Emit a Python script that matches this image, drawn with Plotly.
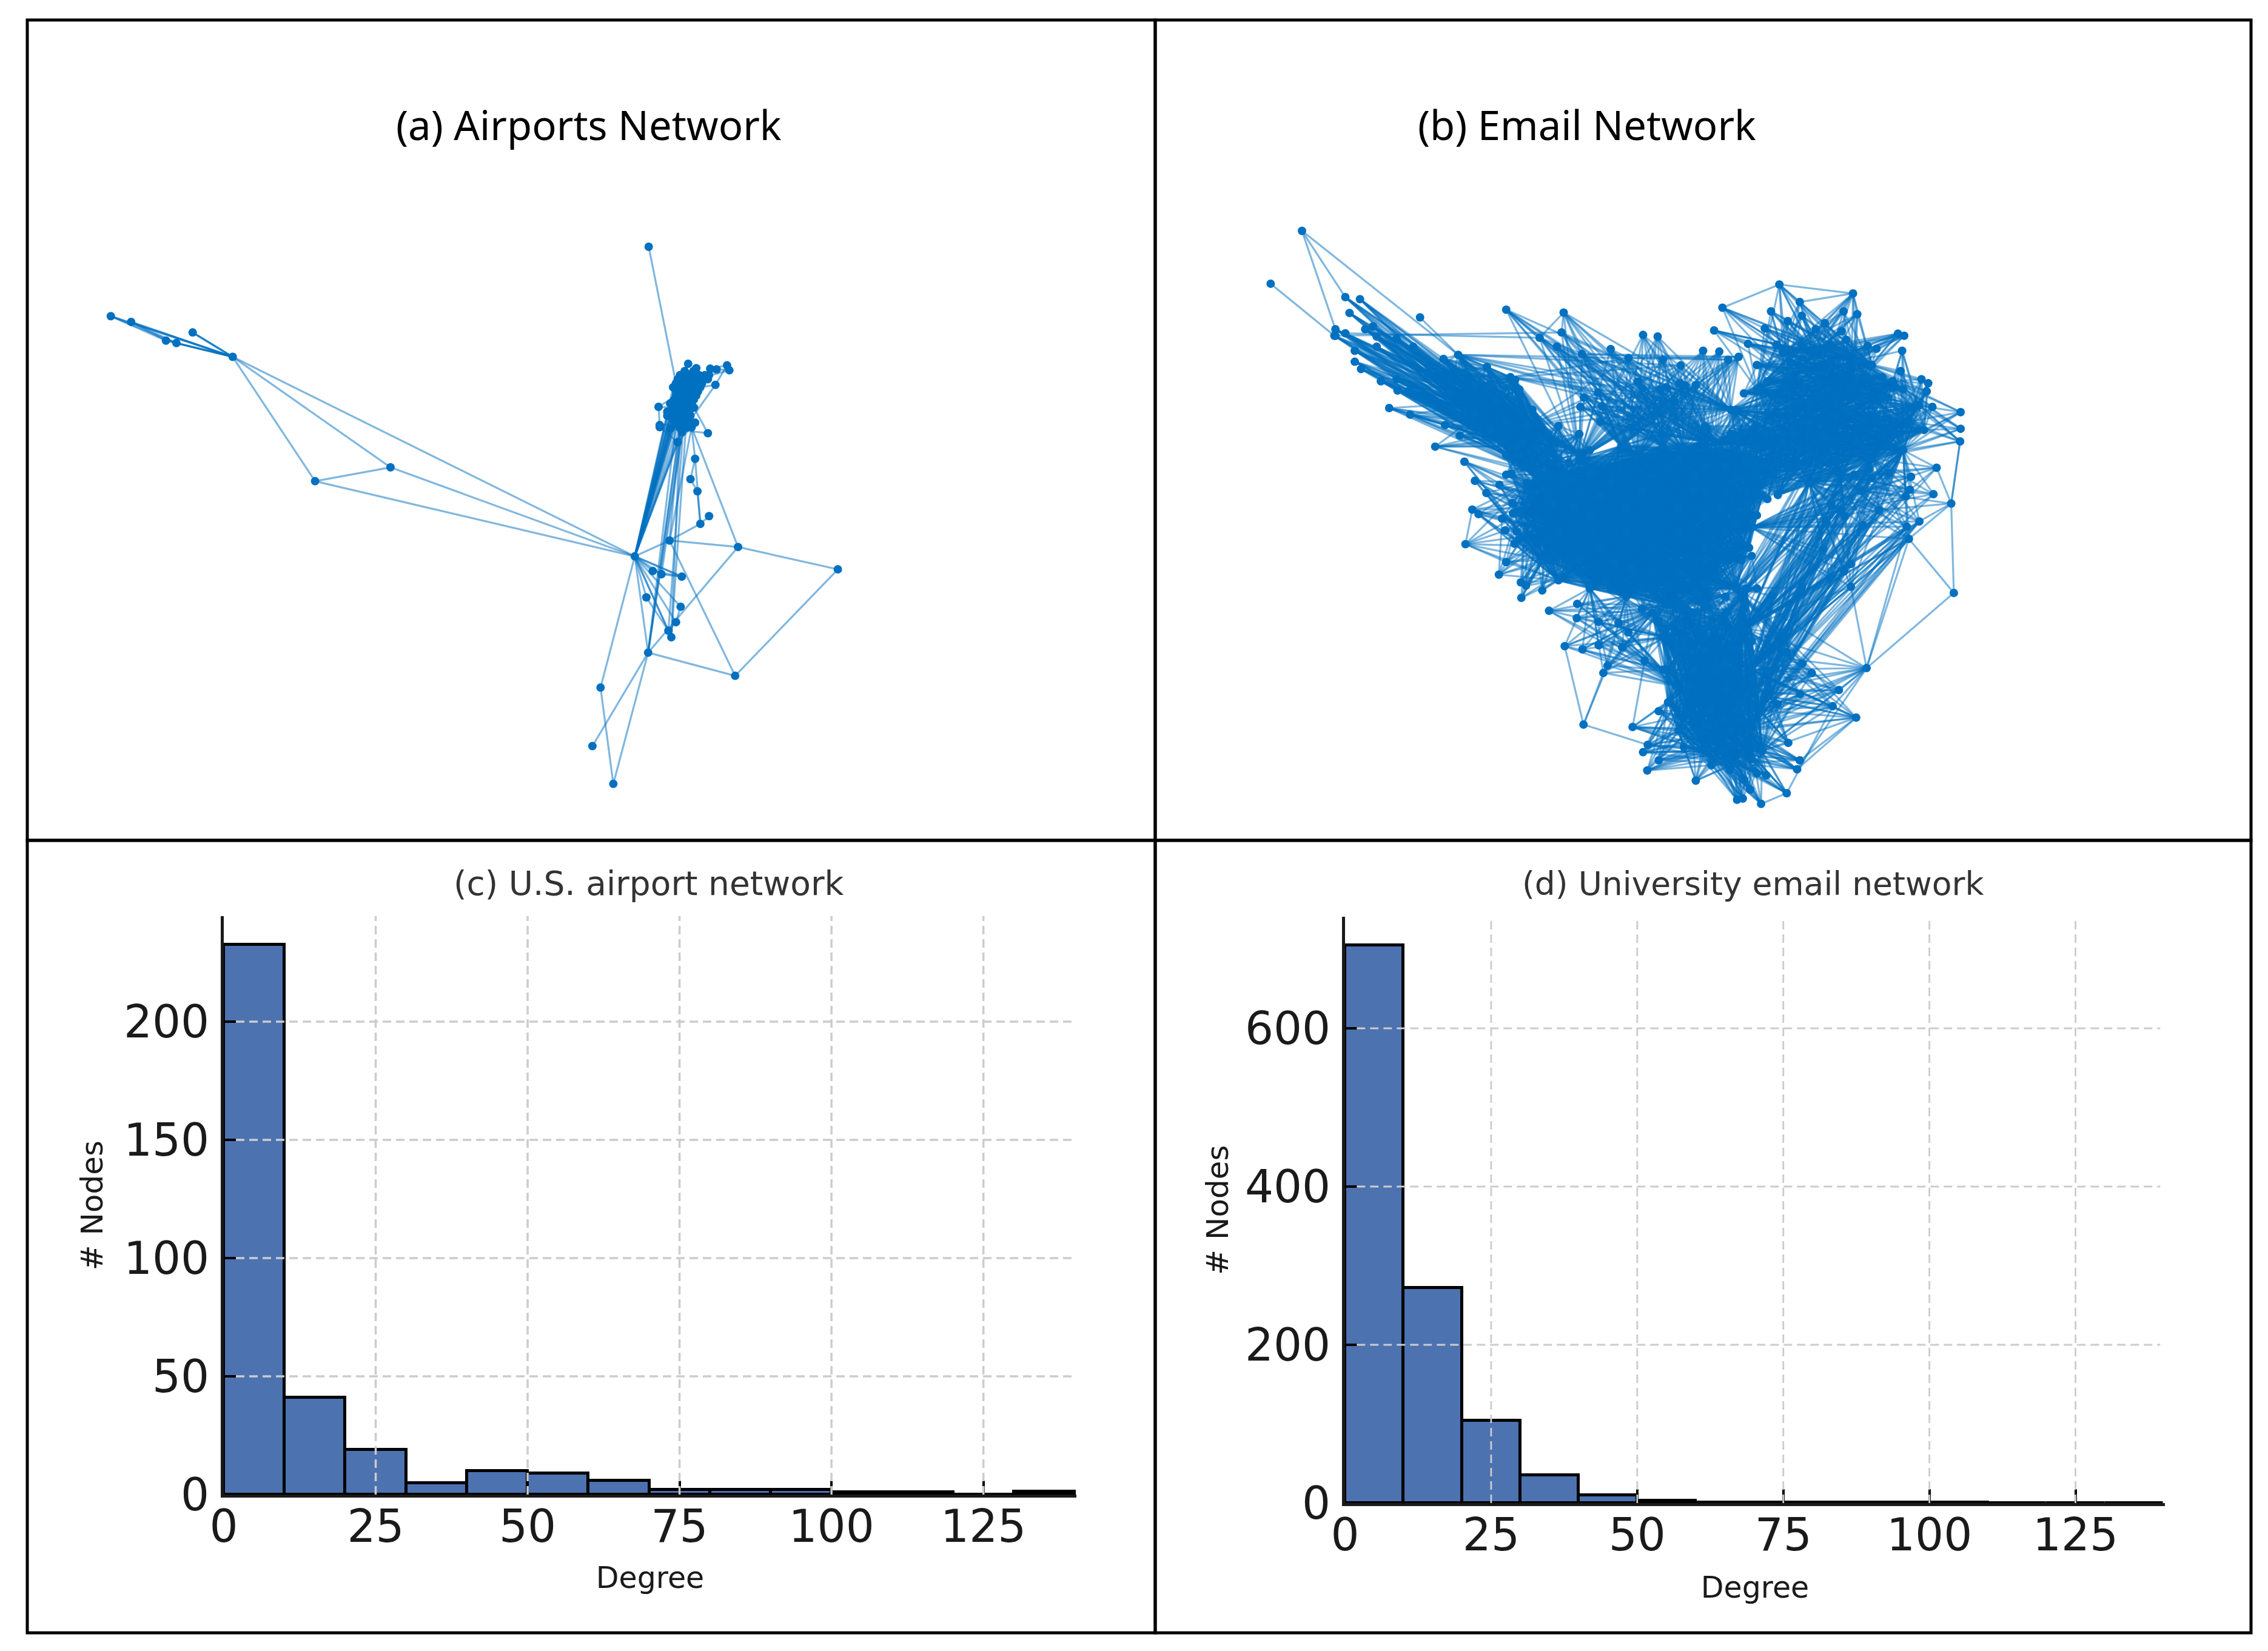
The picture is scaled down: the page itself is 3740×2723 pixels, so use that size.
import plotly.graph_objects as go

W, H = 3740, 2723
BLUE = "#0070C0"
EDGE = "rgba(0,112,192,0.5)"
BAR = "#4C72B0"

# ---------- histogram data ----------
bin_centers = [5, 15, 25, 35, 45, 55, 65, 75, 85, 95, 105, 115, 125, 135]
airport_counts = [232.5, 41, 19, 5, 10, 9, 6, 2, 2, 2, 1, 1, 0, 1.4]
email_counts = [705, 272, 104, 35, 10, 3, 0.6, 0.6, 0.4, 0.4, 0.4, 0.3, 0.3, 0.3]
x_ticks = [0, 25, 50, 75, 100, 125]
airport_y_ticks = [0, 50, 100, 150, 200]
email_y_ticks = [0, 200, 400, 600]

# ---------- airports network (layout coordinates) ----------
air_west = [(191, 330), (226, 344), (286, 390), (304, 396), (332, 370)]
air_west_hub = (401, 430)
air_mid_a = (543, 736)
air_mid_b = (673, 702)
air_hub = (1094, 921)
air_top = (1118, 159)
air_south_fan = [(1125, 957), (1140, 965), (1175, 971), (1114, 1022), (1173, 1045), (1165, 1083), (1152, 1104), (1157, 1120)]
air_cluster = [
    (1186, 447), (1180, 465), (1195, 465), (1200, 458), (1172, 475), (1185, 475), (1195, 475), (1205, 475), (1215, 475), (1222, 475),
    (1168, 485), (1178, 485), (1190, 485), (1200, 485), (1212, 485), (1220, 485), (1165, 495), (1175, 495), (1188, 495), (1198, 495), (1210, 495),
    (1160, 505), (1172, 505), (1185, 505), (1195, 505), (1207, 505), (1165, 515), (1178, 515), (1190, 515), (1203, 515),
    (1165, 525), (1175, 525), (1188, 525), (1200, 525), (1162, 535), (1172, 535), (1185, 535), (1196, 535),
    (1155, 545), (1170, 545), (1180, 545), (1192, 545), (1160, 555), (1172, 555), (1185, 555), (1196, 555),
    (1150, 565), (1162, 565), (1175, 565), (1188, 565), (1150, 575), (1165, 575), (1178, 575), (1190, 575),
    (1160, 585), (1172, 585), (1185, 585), (1165, 595), (1178, 595), (1192, 595), (1172, 605), (1182, 605), (1175, 615),
    (1233, 499), (1253, 451), (1257, 463), (1224, 459), (1235, 461), (1135, 553), (1137, 598), (1137, 603), (1168, 640), (1192, 603), (1198, 592), (1155, 607), (1220, 618),
]
air_other = [(1154, 882), (1272, 898), (1444, 953), (1267, 1215), (1117, 1158), (1035, 1244), (1021, 1388), (1057, 1481),
             (1207, 841), (1222, 822), (1202, 761), (1190, 731), (1198, 681)]
air_bundle_ends = [(1150, 575), (1160, 585), (1165, 595), (1168, 640), (1172, 605), (1175, 615), (1178, 595), (1160, 555), (1165, 575), (1172, 585), (1155, 607), (1162, 565), (1170, 545),
                   (1165, 525), (1172, 535), (1160, 505), (1175, 495), (1168, 485), (1165, 515), (1172, 555), (1162, 535), (1178, 515), (1172, 505), (1155, 545)]
air_edges = [
    ((1154, 882), (1192, 603)), ((1272, 898), (1192, 603)), ((1207, 841), (1202, 761)), ((1202, 761), (1190, 731)), ((1190, 731), (1198, 681)),
    ((1198, 681), (1192, 603)), ((1198, 681), (1207, 841)), ((1207, 841), (1222, 822)), ((1154, 882), (1207, 841)), ((1154, 882), (1272, 898)),
    ((1272, 898), (1444, 953)), ((1444, 953), (1267, 1215)), ((1267, 1215), (1117, 1158)), ((1154, 882), (1267, 1215)), ((1272, 898), (1117, 1158)),
    ((1094, 921), (1154, 882)), ((1094, 921), (1117, 1158)), ((1094, 921), (1035, 1244)), ((1035, 1244), (1057, 1481)), ((1117, 1158), (1057, 1481)),
    ((1117, 1158), (1021, 1388)), ((1125, 957), (1175, 971)), ((1140, 965), (1175, 971)), ((1094, 921), (1175, 971)), ((1114, 1022), (1152, 1104)),
    ((1173, 1045), (1165, 1083)), ((1165, 1083), (1152, 1104)), ((1152, 1104), (1157, 1120)), ((1094, 921), (401, 430)), ((1094, 921), (673, 702)),
    ((1094, 921), (543, 736)), ((401, 430), (673, 702)), ((401, 430), (543, 736)), ((543, 736), (673, 702)), ((191, 330), (286, 390)),
    ((191, 330), (304, 396)), ((226, 344), (286, 390)), ((226, 344), (304, 396)), ((332, 370), (401, 430)), ((1118, 159), (1165, 495)),
    ((1220, 618), (1196, 555)), ((1253, 451), (1224, 459)), ((1257, 463), (1200, 485)), ((1233, 499), (1207, 505)), ((1135, 553), (1160, 555)),
    ((1137, 598), (1165, 595)), ((1117, 1158), (1165, 595)), ((1117, 1158), (1175, 615)), ((1117, 1158), (1168, 640)), ((1117, 1158), (1172, 605)), ((1140, 965), (1178, 595)),
    ((1157, 1120), (1182, 605)), ((1157, 1120), (1172, 605)), ((1152, 1104), (1178, 595)), ((1154, 882), (1172, 605)), ((1253, 451), (1257, 463)),
]

# ---------- email network (layout coordinates) ----------
em_left_clique = [(528, 425), (500, 435), (583, 455), (628, 480), (637, 487), (645, 510), (560, 500), (600, 540), (540, 470), (620, 590),
                  (660, 600), (680, 650), (720, 680), (640, 650), (590, 500), (700, 620), (650, 560), (610, 640), (740, 730), (680, 720),
                  (470, 470), (510, 520), (560, 570), (590, 610), (715, 640), (760, 670), (670, 560), (700, 760), (655, 700), (540, 560)]
em_center_clique = [(660, 740), (700, 720), (760, 680), (840, 650), (920, 650), (1000, 640), (1060, 660), (1100, 700), (1110, 770), (1090, 850),
                    (1070, 930), (1060, 1000), (1000, 1040), (930, 1040), (850, 1020), (780, 1000), (720, 980), (690, 930), (660, 880), (645, 810),
                    (750, 800), (850, 800), (950, 800), (1030, 800), (800, 900), (900, 900), (1000, 900), (900, 720), (820, 740), (980, 720),
                    (700, 780), (800, 770), (880, 760), (1050, 740), (720, 860), (760, 930), (850, 860), (950, 860), (1040, 860), (860, 950),
                    (950, 960), (1020, 970), (700, 880), (780, 820), (1000, 760), (930, 700), (870, 680), (790, 710), (730, 740), (665, 780),
                    (680, 830), (740, 950), (810, 985), (900, 1000), (980, 1010), (1085, 900), (1100, 820), (1080, 690), (1030, 660), (960, 660)]
em_bottom_clique = [(930, 1000), (1000, 990), (1080, 1000), (1075, 1100), (1090, 1200), (1105, 1300), (1110, 1400), (1060, 1430), (1000, 1400), (950, 1350),
                    (930, 1280), (925, 1200), (920, 1120), (900, 1060), (990, 1100), (1020, 1200), (1010, 1300), (1050, 1350), (970, 1240), (1040, 1060),
                    (960, 1050), (1060, 1150), (960, 1150), (1040, 1250), (945, 1240), (1080, 1260), (1085, 1350), (965, 1310), (1030, 1400), (1075, 1050),
                    (1000, 1150), (1060, 1300), (985, 1350), (940, 1090), (1100, 1250), (1020, 1100), (1040, 1180), (980, 1200), (1035, 1320), (1090, 1420)]
em_right_clique = [(1050, 560), (1100, 510), (1160, 480), (1230, 470), (1290, 440), (1360, 490), (1410, 550), (1420, 610), (1380, 660), (1320, 680),
                   (1260, 720), (1200, 740), (1140, 770), (1080, 760), (1040, 700), (1020, 640), (1150, 620), (1250, 580), (1330, 590), (1180, 540),
                   (1280, 510), (1100, 650), (1200, 660), (1120, 570), (1220, 530), (1340, 530), (1390, 590), (1290, 640), (1230, 630), (1160, 700),
                   (1100, 720), (1060, 630), (1130, 520), (1310, 480), (1270, 560), (1200, 590), (1370, 620), (1350, 650), (1250, 690), (1180, 650)]
em_top_right_clique = [(1100, 450), (1150, 420), (1210, 420), (1270, 420), (1320, 450), (1260, 470), (1190, 460), (1120, 490), (1290, 490), (1340, 480),
                       (1240, 445), (1165, 445), (1380, 510), (1350, 530), (1075, 520), (1220, 500), (1150, 510), (1300, 530), (1250, 530), (1200, 540)]
em_junction_right = [(950, 680), (1000, 650), (1050, 620), (1100, 600), (1150, 640), (1130, 720), (1080, 800), (1040, 760), (980, 760), (1000, 700),
                     (1080, 680), (1140, 690), (1060, 560), (1000, 600), (1120, 780), (1060, 840), (1100, 760), (1180, 700), (1000, 820), (1170, 620)]
em_junction_left = [(640, 680), (690, 680), (740, 690), (780, 720), (760, 760), (710, 790), (660, 760), (620, 720), (680, 730), (730, 720),
                    (700, 660), (650, 640), (780, 660), (760, 620), (720, 600)]
em_junction_bottom = [(760, 960), (820, 1000), (880, 1050), (920, 1100), (1000, 1100), (1060, 1100), (1100, 1000), (1090, 920), (1000, 930), (900, 960),
                      (830, 940), (950, 1040), (1040, 1020), (980, 1060), (880, 1000)]
em_leaves_topleft = [(312, 283), (340, 288), (320, 322), (293, 362), (291, 378), (312, 372), (365, 355), (350, 362), (372, 380), (372, 405),
                     (410, 385), (442, 405), (330, 415), (330, 442), (342, 460), (380, 490), (410, 485), (412, 513), (432, 515), (458, 525),
                     (396, 556), (436, 572), (503, 598), (531, 624), (484, 651)]
em_hubs_topleft = [(600, 540), (680, 650), (740, 730), (640, 650), (660, 600), (700, 620), (610, 640), (680, 720)]
em_leaves_leftmid = [(540, 688), (560, 735), (582, 765), (607, 745), (555, 806), (567, 817), (612, 828), (633, 815), (542, 891), (618, 857),
                     (640, 860), (636, 890), (620, 935), (606, 966), (648, 985), (658, 993), (649, 1023), (689, 1005), (700, 930), (620, 672),
                     (630, 718), (632, 790), (644, 880)]
em_hubs_leftmid = [(660, 740), (750, 800), (690, 930), (800, 900), (720, 980), (700, 780), (720, 860)]
em_leaves_lowleft = [(702, 1055), (732, 1142), (755, 1073), (756, 1038), (766, 1150), (797, 1082), (797, 1140), (842, 1145), (854, 1108), (835, 1085),
                     (814, 1190), (806, 1208), (885, 1178)]
em_hubs_lowleft = [(850, 1020), (930, 1040), (925, 1120), (920, 1200), (780, 1000), (900, 1060), (945, 1240)]
em_leaves_bottom = [(912, 1302), (891, 1385), (882, 1403), (912, 1423), (890, 1448), (983, 1473), (1013, 1435), (1048, 1447), (1075, 1470), (1087, 1495),
                    (1062, 1520), (1073, 1517), (1108, 1530), (1157, 1504), (1177, 1445), (1182, 1423), (1118, 1460), (1100, 1455), (960, 1390), (862, 1341)]
em_hubs_bottom = [(930, 1280), (1000, 1400), (1060, 1430), (1110, 1400), (1010, 1300), (970, 1240), (1050, 1350), (1085, 1350), (950, 1350), (1030, 1400)]
em_leaves_lowright = [(1290, 1318), (1310, 1196), (1257, 1250), (1245, 1290), (1205, 1208), (1187, 1185), (1183, 1260), (1157, 1157), (1152, 1110), (1090, 1130),
                      (1130, 1018), (1186, 997), (1140, 1285), (1160, 1380)]
em_hubs_lowright = [(1105, 1300), (1090, 1200), (1075, 1100), (1110, 1400), (1050, 1350), (1060, 1000), (1085, 1350), (1080, 1260), (1040, 1250), (1000, 1150)]
em_leaves_midright = [(1280, 940), (1267, 958), (1240, 975), (1280, 996), (1227, 903), (1334, 807), (1303, 845), (1260, 810), (1268, 823), (1232, 835),
                      (1243, 797), (1391, 878), (1411, 835), (1387, 848), (1385, 773), (1393, 757), (1395, 725), (1438, 768), (1444, 703), (1315, 707),
                      (1320, 728), (1353, 716), (1286, 720)]
em_hubs_midright = [(1260, 720), (1380, 660), (1200, 740), (1090, 850), (1075, 1100), (1090, 1200), (1320, 680)]
em_bridge_south = [(1075, 1100), (1090, 1200), (1040, 1060), (1105, 1300), (1080, 1000), (1060, 1150), (1100, 1250), (1060, 1000)]
em_bridge_north = [(1200, 740), (1260, 720), (1320, 680), (1380, 660), (1250, 580), (1410, 550), (1290, 640)]
em_bridge2_south = [(1105, 1300), (1090, 1200), (1100, 1250), (1085, 1350), (1075, 1100)]
em_bridge2_east = [(1334, 807), (1303, 845), (1260, 810), (1232, 835), (1280, 940), (1267, 958), (1227, 903), (1387, 848), (1391, 878), (1411, 835)]
em_leaves_rightedge = [(1489, 638), (1490, 607), (1490, 566), (1375, 465), (1415, 485), (1428, 495), (1425, 515), (1436, 553), (1378, 415)]
em_hubs_rightedge = [(1410, 550), (1420, 610), (1320, 680), (1360, 490), (1290, 440), (1380, 660), (1390, 590)]
em_leaves_topright = [(1143, 252), (1182, 295), (1284, 274), (1186, 329), (1159, 342), (1230, 347), (1213, 362), (1266, 318), (1292, 325), (1262, 367),
                      (1271, 388), (1370, 373), (1382, 378), (1329, 410), (1312, 403), (1240, 400), (1185, 400), (1138, 400), (1127, 318), (1115, 360),
                      (1083, 398), (1034, 309), (1018, 365)]
em_hubs_topright = [(1160, 480), (1230, 470), (1290, 440), (1100, 510), (1280, 510), (1210, 420), (1150, 420), (1320, 450)]
em_leaves_topband = [(620, 314), (730, 321), (726, 370), (684, 383), (717, 405), (765, 423), (820, 411), (854, 433), (882, 376), (910, 380),
                     (920, 437), (954, 451), (997, 415), (1028, 417), (1045, 437), (1065, 430), (769, 530), (796, 518), (762, 553), (803, 552),
                     (800, 590), (872, 491), (881, 508), (915, 510), (927, 505), (953, 495), (962, 500), (983, 500), (908, 568), (942, 538),
                     (918, 620), (860, 605)]
em_hubs_topband = [(840, 650), (920, 650), (1000, 640), (760, 680), (1050, 560), (870, 680), (960, 660), (1020, 640)]
em_band_west = [(528, 425), (628, 480), (660, 600)]
em_band_east = [(854, 433), (954, 451), (915, 510), (796, 518), (942, 538), (908, 568)]
em_isolated = [(229, 120), (169, 250), (455, 333), (1477, 1011), (1472, 791), (768, 1335)]
em_edges = [
    ((229, 120), (312, 283)), ((229, 120), (293, 362)), ((229, 120), (528, 425)), ((169, 250), (291, 378)), ((455, 333), (528, 425)),
    ((620, 314), (684, 383)), ((730, 321), (684, 383)), ((730, 321), (726, 370)), ((726, 370), (293, 378)), ((684, 383), (312, 372)),
    ((1477, 1011), (1472, 791)), ((1477, 1011), (1391, 878)), ((1477, 1011), (1310, 1196)), ((1472, 791), (1489, 638)), ((1472, 791), (1391, 878)),
    ((1472, 791), (1334, 807)), ((1472, 791), (1411, 835)), ((1472, 791), (1300, 760)), ((1310, 1196), (1391, 878)), ((1310, 1196), (1257, 1250)),
    ((1310, 1196), (1245, 1290)), ((1310, 1196), (1387, 848)), ((1290, 1318), (1245, 1290)), ((1290, 1318), (1182, 1423)), ((1290, 1318), (1177, 1445)),
    ((1157, 1504), (1245, 1290)), ((1177, 1445), (1310, 1196)), ((1280, 996), (1310, 1196)), ((1157, 1504), (1108, 1530)), ((768, 1335), (732, 1142)),
    ((768, 1335), (814, 1190)), ((768, 1335), (806, 1208)), ((768, 1335), (891, 1385)), ((862, 1341), (885, 1178)), ((1143, 252), (1284, 274)),
    ((1143, 252), (1182, 295)), ((1143, 252), (1034, 309)), ((1284, 274), (1182, 295)), ((1284, 274), (1292, 325)), ((1284, 274), (1266, 318)),
    ((1284, 274), (1230, 347)), ((542, 891), (555, 806)), ((606, 966), (612, 828)), ((542, 891), (620, 935)), ((1045, 437), (765, 423)),
    ((1065, 430), (854, 433)), ((1045, 437), (854, 433)), ((1065, 430), (765, 423)), ((1489, 638), (1472, 791)), ((1444, 703), (1472, 791)),
]
email_cliques = [em_left_clique, em_center_clique, em_bottom_clique, em_right_clique, em_top_right_clique, em_junction_right, em_junction_left, em_junction_bottom]
email_fans = [
    (em_leaves_topleft, em_hubs_topleft), (em_leaves_leftmid, em_hubs_leftmid), (em_leaves_lowleft, em_hubs_lowleft),
    (em_leaves_bottom, em_hubs_bottom), (em_leaves_lowright, em_hubs_lowright), (em_leaves_midright, em_hubs_midright),
    (em_leaves_rightedge, em_hubs_rightedge), (em_leaves_topright, em_hubs_topright), (em_leaves_topband, em_hubs_topband),
    (em_band_west, em_band_east), (em_bridge_south, em_bridge_north), (em_bridge2_south, em_bridge2_east),
]


# ---------- helpers ----------
def px_x(v):
    return v / W


def px_y(v):
    return 1 - v / H


def star_trace(origin, targets, xa, ya):
    xs, ys = [], []
    for t in targets:
        xs += [origin[0], t[0], None]
        ys += [origin[1], t[1], None]
    return go.Scatter(x=xs, y=ys, mode="lines", xaxis=xa, yaxis=ya, showlegend=False, hoverinfo="skip",
                      line=dict(color=EDGE, width=3.2))


def node_trace(nodes, xa, ya):
    return go.Scatter(x=[n[0] for n in nodes], y=[n[1] for n in nodes], mode="markers", xaxis=xa, yaxis=ya,
                      showlegend=False, hoverinfo="skip", marker=dict(color=BLUE, size=14))


fig = go.Figure()

# panel (a)
for leaf in air_west:
    fig.add_trace(star_trace(leaf, [air_west_hub], "x", "y"))
    fig.add_trace(star_trace(leaf, [air_west_hub], "x", "y"))
for n in air_south_fan + air_bundle_ends:
    fig.add_trace(star_trace(air_hub, [n], "x", "y"))
for a, b in air_edges:
    fig.add_trace(star_trace(a, [b], "x", "y"))
for i in range(len(air_cluster) - 1):
    fig.add_trace(star_trace(air_cluster[i], [air_cluster[i + 1]], "x", "y"))
air_nodes = air_west + [air_west_hub, air_mid_a, air_mid_b, air_hub, air_top] + air_south_fan + air_cluster + air_other
fig.add_trace(node_trace(air_nodes, "x", "y"))

# panel (b)
email_nodes = set(em_isolated)
for group in email_cliques:
    email_nodes.update(group)
    for i, n in enumerate(group[:-1]):
        fig.add_trace(star_trace(n, group[i + 1:], "x2", "y2"))
for leaves, hubs in email_fans:
    email_nodes.update(leaves)
    email_nodes.update(hubs)
    for n in leaves:
        fig.add_trace(star_trace(n, hubs, "x2", "y2"))
for a, b in em_edges:
    email_nodes.update([a, b])
    fig.add_trace(star_trace(a, [b], "x2", "y2"))
fig.add_trace(node_trace(sorted(email_nodes), "x2", "y2"))

# panels (c) and (d)
for counts, xa, ya in [(airport_counts, "x3", "y3"), (email_counts, "x4", "y4")]:
    fig.add_trace(go.Bar(x=bin_centers, y=counts, width=10, xaxis=xa, yaxis=ya, showlegend=False,
                         marker=dict(color=BAR, line=dict(color="black", width=5))))

hidden = dict(visible=False, showgrid=False, zeroline=False)
FONT = "DejaVu Sans"


def hist_axes(x0, x1, y_top, y_bot, xmax, ymax, yticks, xstand, ystand, yanchor_name, xanchor_name):
    xa = dict(domain=[px_x(x0), px_x(x1)], range=[0, xmax], tickvals=x_ticks, ticks="inside", ticklen=23, tickwidth=3.5,
              tickcolor="black", showline=True, linecolor="#1a1a1a", linewidth=5, showgrid=False, zeroline=False,
              tickfont=dict(family=FONT, size=74, color="#1a1a1a"), layer="below traces", automargin=False, anchor=yanchor_name,
              ticklabelstandoff=-16,
              title=dict(text="Degree", font=dict(family=FONT, size=49, color="#1a1a1a"), standoff=xstand))
    ya = dict(domain=[px_y(y_bot), px_y(y_top)], range=[0, ymax], tickvals=yticks, ticks="inside", ticklen=20, tickwidth=3.5,
              tickcolor="black", showline=True, linecolor="#1a1a1a", linewidth=5, showgrid=False, zeroline=False,
              tickfont=dict(family=FONT, size=74, color="#1a1a1a"), automargin=False, ticklabelstandoff=4, anchor=xanchor_name,
              title=dict(text="# Nodes", font=dict(family=FONT, size=50, color="#1a1a1a"), standoff=ystand))
    return xa, ya


x3, y3 = hist_axes(369, 1775, 1511, 2465, 140.3, 244.6, airport_y_ticks, 27, 20, "y3", "x3")
x4, y4 = hist_axes(2218, 3570, 1512, 2479, 140.3, 741, email_y_ticks, 29, 13, "y4", "x4")

shapes = []
for xr, yr, yticks, ymax, w, xgrid_end in [("x3", "y3", airport_y_ticks, 244.6, 3.5, 139.5), ("x4", "y4", email_y_ticks, 741, 2.8, 139.5)]:
    for t in x_ticks[1:]:
        shapes.append(dict(type="line", xref=xr, yref=yr, x0=t, x1=t, y0=0, y1=ymax, layer="above",
                           line=dict(color="#cccccc", width=w, dash="14px,8px")))
    for t in yticks[1:]:
        shapes.append(dict(type="line", xref=xr, yref=yr, x0=2, x1=xgrid_end, y0=t, y1=t, layer="above",
                           line=dict(color="#cccccc", width=w, dash="14px,8px")))
# panel frames
for x0, x1, y0, y1 in [(45, 1905, 33, 1386), (1905, 3712, 33, 1386), (45, 1905, 1386, 2693), (1905, 3712, 1386, 2693)]:
    shapes.append(dict(type="rect", xref="paper", yref="paper", x0=px_x(x0), x1=px_x(x1), y0=px_y(y1), y1=px_y(y0),
                       line=dict(color="black", width=5), layer="above"))

annotations = []
for text, cx, cy, family, size, color in [
    ("(a) Airports Network", 971, 205, "Noto Sans", 67, "black"),
    ("(b) Email Network", 2617, 205, "Noto Sans", 67, "black"),
    ("(c) U.S. airport network", 1070, 1457, FONT, 55, "#333333"),
    ("(d) University email network", 2890, 1457, FONT, 53.5, "#333333"),
]:
    annotations.append(dict(text=text, x=px_x(cx), y=px_y(cy), xref="paper", yref="paper", showarrow=False,
                            xanchor="center", yanchor="middle", font=dict(family=family, size=size, color=color)))

fig.update_layout(
    width=W, height=H, margin=dict(l=0, r=0, t=0, b=0), paper_bgcolor="white", plot_bgcolor="white",
    showlegend=False, autosize=False, bargap=0, shapes=shapes, annotations=annotations,
    xaxis=dict(domain=[px_x(45), px_x(1905)], range=[47, 1991], **hidden),
    yaxis=dict(domain=[px_y(1386), px_y(33)], range=[1620, -399], **hidden),
    xaxis2=dict(domain=[px_x(1905), px_x(3712)], range=[-52, 2046], **hidden),
    yaxis2=dict(domain=[px_y(1386), px_y(33)], range=[1620, -399], **hidden),
    xaxis3=x3, yaxis3=y3, xaxis4=x4, yaxis4=y4,
)
fig.write_html("out.html", config={"displayModeBar": False},
               post_script="document.body.style.margin='0';document.body.style.overflow='hidden';")
